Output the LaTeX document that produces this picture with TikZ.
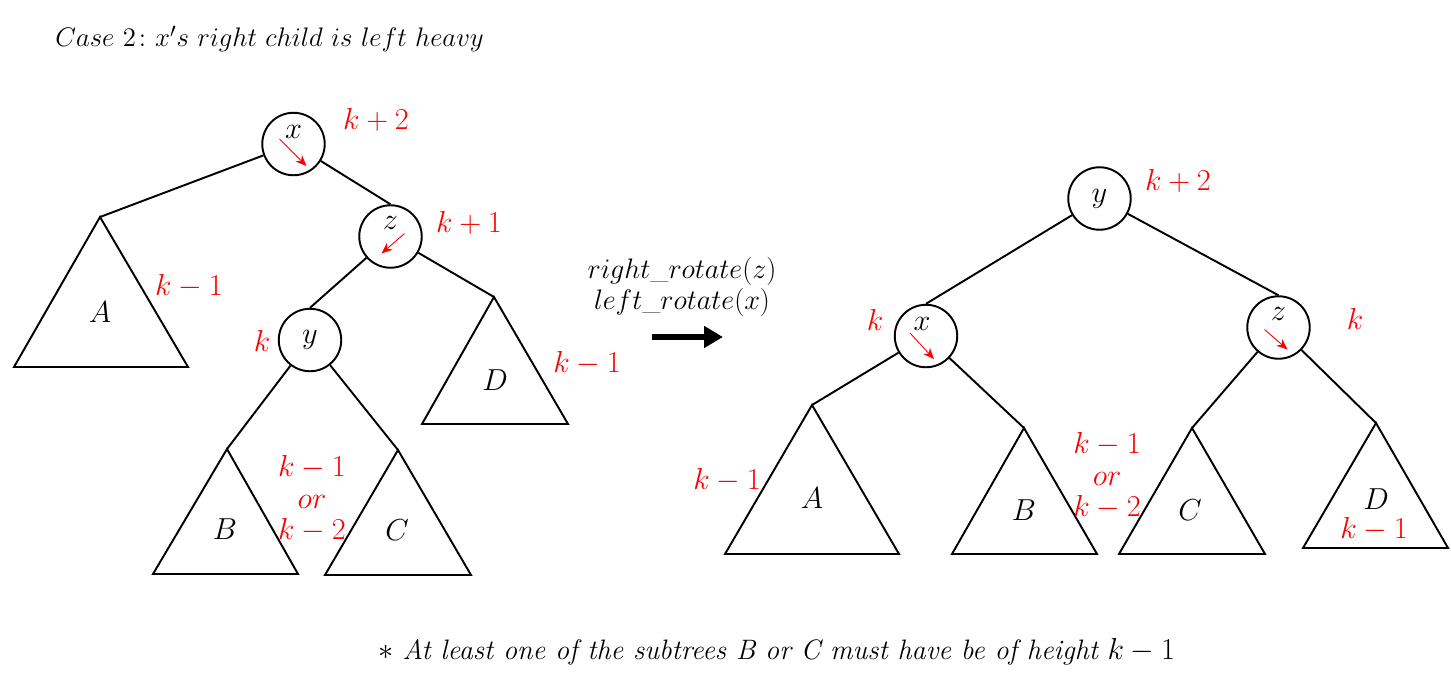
\documentclass[tikz,border=0pt]{standalone}
\usepackage{amsmath,amssymb}
\usetikzlibrary{calc,arrows.meta}
\tikzset{
    vtx/.style={circle,draw=black,line width=1.1pt,minimum size=1.25cm,inner sep=0pt,font=\fontsize{16}{18}\selectfont},
    ht/.style={text=red,font=\fontsize{16}{18}\selectfont,inner sep=0pt},
    sub/.style={font=\fontsize{16}{18}\selectfont,inner sep=0pt},
    bal/.style={red,line width=0.5pt,-{Stealth[length=2.2mm,width=1.8mm]}},
    edge/.style={line width=1.1pt}
}
\begin{document}
\begin{tikzpicture}[x=0.02cm,y=-0.02cm]
        \useasboundingbox (0,0) rectangle (1451,681);
        \node[anchor=west,inner sep=0pt,font=\fontsize{15}{18}\selectfont] (title) at (55,39) {\scalebox{1.06}{$Case\ 2\colon x's\ right\ child\ is\ left\ heavy$}};
        \node[vtx] (x) at (293.5,144) {};
        \node[vtx] (z) at (390.5,236.5) {};
        \node[vtx] (y) at (310,340) {$y$};
        \node[sub] (xl) at ($(x)+(0,-12)$) {$x$};
        \node[sub] (zl) at ($(z)+(0,-14)$) {$z$};
        \draw[bal] ($(x)+(-14,-5)$) -- ($(x)+(13,22)$);
        \draw[bal] ($(z)+(14,-3)$) -- ($(z)+(-9,17)$);
        \coordinate (Atop) at (100,217);
        \coordinate (Dtop) at (494,297);
        \coordinate (Btop) at (227,449);
        \coordinate (Ctop) at (398,450);
        \draw[edge] (Atop) -- (14,367) -- (188,367) -- cycle;
        \draw[edge] (Dtop) -- (422,424) -- (568,424) -- cycle;
        \draw[edge] (Btop) -- (153,574) -- (298,574) -- cycle;
        \draw[edge] (Ctop) -- (325,575) -- (471,575) -- cycle;
        \draw[edge] (x) -- (Atop);
        \draw[edge] (x) -- (z.north);
        \draw[edge] (z) -- (y.north);
        \draw[edge] (z) -- (Dtop);
        \draw[edge] (y) -- (Btop);
        \draw[edge] (y) -- (Ctop);
        \node[sub] (A) at (100,312) {$A$};
        \node[sub] (D) at (495,380) {$D$};
        \node[sub] (B) at (225,529) {$B$};
        \node[sub] (C) at (397,530) {$C$};
        \node[ht] (hx) at (376,120) {$k+2$};
        \node[ht] (hz) at (469,223) {$k+1$};
        \node[ht] (hA) at (189,286) {$k-1$};
        \node[ht] (hy) at (262,341) {$k$};
        \node[ht] (hD) at (587,363) {$k-1$};
        \node[ht,align=center] (hBC) at (312,499) {$k-1$\\$or$\\$k-2$};
        \node[sub,align=center] (rot) at (682,287) {\scalebox{0.93}{$right\_rotate(z)$}\\\scalebox{0.93}{$left\_rotate(x)$}};
        \coordinate (arrs) at (652,337);
        \coordinate (arre) at (723,337);
        \draw[line width=3.4pt,-{Triangle[length=0.38cm,width=0.42cm]}] (arrs) -- (arre);
        \node[vtx] (y2) at (1099.5,198.5) {$y$};
        \node[vtx] (x2) at (926,336) {};
        \node[vtx] (z2) at (1278.5,327.5) {};
        \node[sub] (x2l) at ($(x2)+(-4,-12)$) {$x$};
        \node[sub] (z2l) at ($(z2)+(0,-14)$) {$z$};
        \draw[bal] ($(x2)+(-16,-3)$) -- ($(x2)+(8,23)$);
        \draw[bal] ($(z2)+(-14,2)$) -- ($(z2)+(9,22)$);
        \coordinate (A2top) at (812,405);
        \coordinate (B2top) at (1024,428);
        \coordinate (C2top) at (1192,428);
        \coordinate (D2top) at (1376,423);
        \draw[edge] (A2top) -- (725,554) -- (899,554) -- cycle;
        \draw[edge] (B2top) -- (952,554) -- (1097,554) -- cycle;
        \draw[edge] (C2top) -- (1119,554) -- (1265,554) -- cycle;
        \draw[edge] (D2top) -- (1303,548) -- (1448,548) -- cycle;
        \draw[edge] (y2) -- (x2.north);
        \draw[edge] (y2) -- (z2.north);
        \draw[edge] (x2) -- (A2top);
        \draw[edge] (x2) -- (B2top);
        \draw[edge] (z2) -- (C2top);
        \draw[edge] (z2) -- (D2top);
        \node[sub] (A2) at (812,498) {$A$};
        \node[sub] (B2) at (1024,510) {$B$};
        \node[sub] (C2) at (1190,510) {$C$};
        \node[sub] (D2) at (1376,499) {$D$};
        \node[ht] (hy2) at (1178,181) {$k+2$};
        \node[ht] (hx2) at (875,320) {$k$};
        \node[ht] (hz2) at (1355,319) {$k$};
        \node[ht] (hA2) at (727,480) {$k-1$};
        \node[ht] (hD2) at (1374,529) {$k-1$};
        \node[ht,align=center] (hBC2) at (1107,476) {$k-1$\\$or$\\$k-2$};
        \node[sub] (note) at (777,652) {$\ast$ \textit{At least one of the subtrees B or C must have be of height} $k-1$};
\end{tikzpicture}
\end{document}
